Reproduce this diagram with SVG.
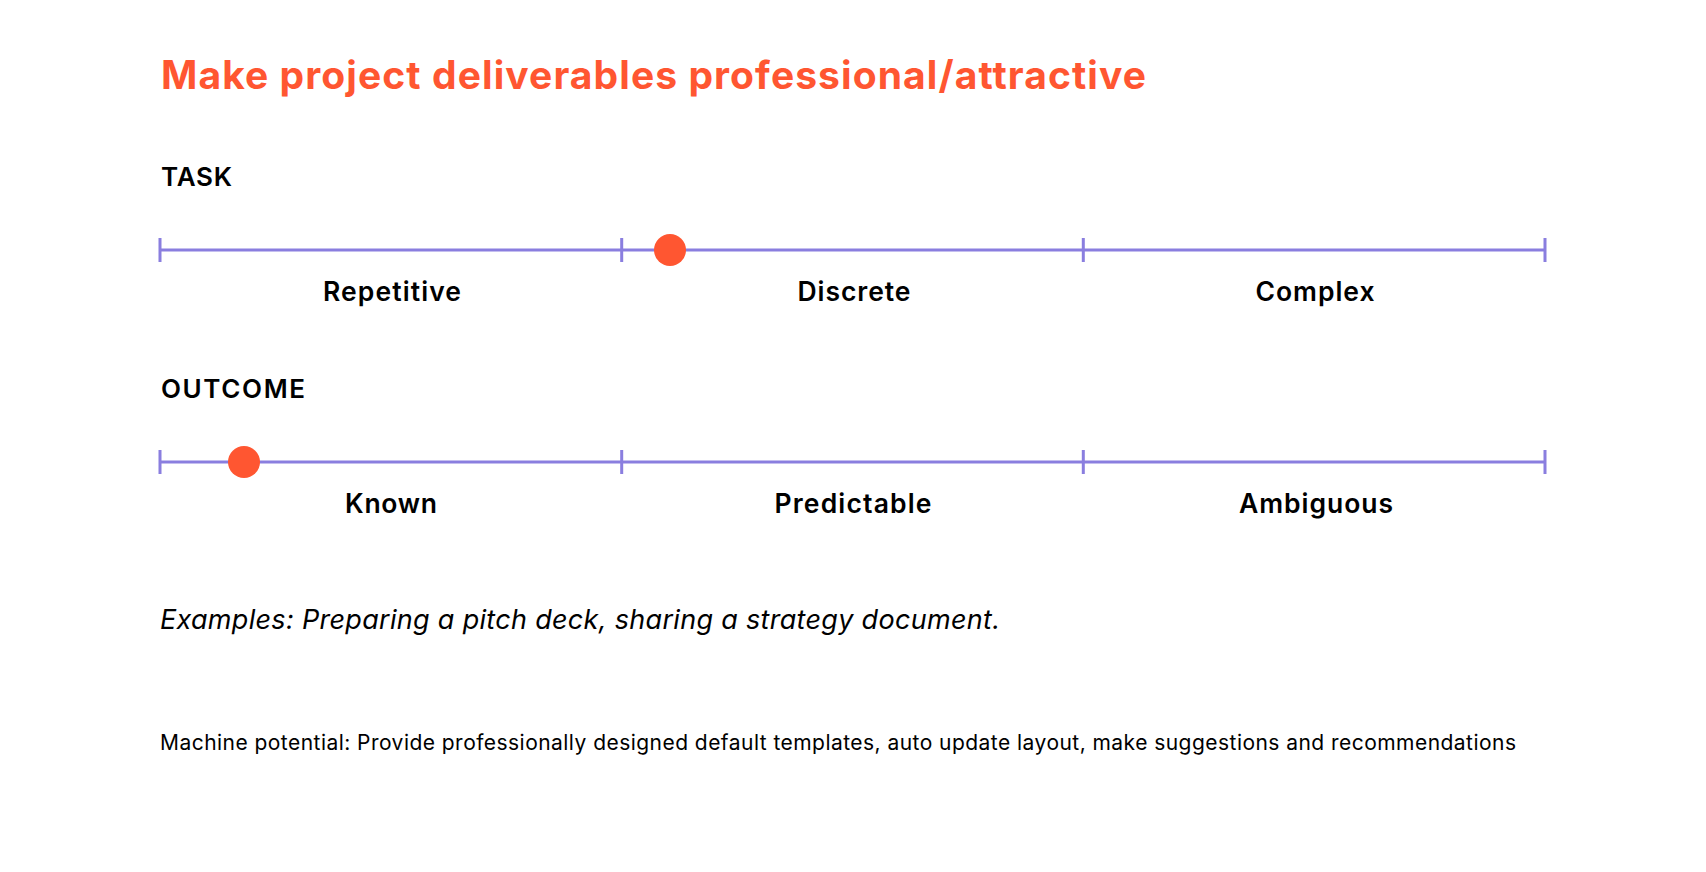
<svg xmlns="http://www.w3.org/2000/svg" width="1706" height="872" viewBox="0 0 1706 872">
  <style>
    text { font-family: Inter, "Noto Sans", "Liberation Sans", sans-serif; fill: #000; }
    .title { font-size: 39px; font-weight: 700; fill: #FF5631; }
    .head { font-size: 26px; font-weight: 600; }
    .lbl { font-size: 26.5px; font-weight: 600; text-anchor: middle; }
    .ex { font-size: 27px; font-style: italic; font-weight: 400; }
    .mp { font-size: 21px; font-weight: 400; }
    .axis { stroke: #8A7EDF; stroke-width: 3; fill: none; }
    .dot { fill: #FF5631; }
  </style>
  <rect width="1706" height="872" fill="#fff"/>
  <g id="title"><text class="title" x="161" y="89" textLength="985" lengthAdjust="spacing">Make project deliverables professional/attractive</text></g>

  <g id="task">
    <text class="head" x="161" y="186" textLength="71" lengthAdjust="spacing">TASK</text>
    <g class="connectors">
      <path class="axis" d="M160 250 H1545 M160 238 V262 M621.7 238 V262 M1083.3 238 V262 M1545 238 V262"/>
    </g>
    <circle class="dot" cx="670" cy="250" r="16"/>
    <text class="lbl" x="392" y="301" textLength="138" lengthAdjust="spacing">Repetitive</text>
    <text class="lbl" x="854" y="301" textLength="113" lengthAdjust="spacing">Discrete</text>
    <text class="lbl" x="1315" y="301" textLength="119" lengthAdjust="spacing">Complex</text>
  </g>

  <g id="outcome">
    <text class="head" x="161" y="398" textLength="144" lengthAdjust="spacing">OUTCOME</text>
    <g class="connectors">
      <path class="axis" d="M160 462 H1545 M160 450 V474 M621.7 450 V474 M1083.3 450 V474 M1545 450 V474"/>
    </g>
    <circle class="dot" cx="244" cy="462" r="16"/>
    <text class="lbl" x="391" y="513" textLength="92" lengthAdjust="spacing">Known</text>
    <text class="lbl" x="853" y="513" textLength="157" lengthAdjust="spacing">Predictable</text>
    <text class="lbl" x="1316" y="513" textLength="154" lengthAdjust="spacing">Ambiguous</text>
  </g>

  <g id="examples"><text class="ex" x="160" y="629" textLength="840" lengthAdjust="spacing">Examples: Preparing a pitch deck, sharing a strategy document.</text></g>
  <g id="machine"><text class="mp" x="160" y="750" textLength="1356" lengthAdjust="spacing">Machine potential: Provide professionally designed default templates, auto update layout, make suggestions and recommendations</text></g>
</svg>
